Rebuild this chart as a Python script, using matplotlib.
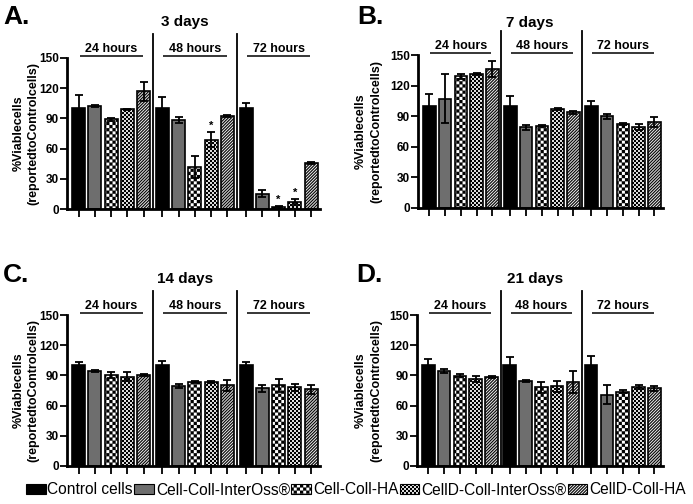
import numpy as np
import matplotlib
matplotlib.use('Agg')
import matplotlib.pyplot as plt
import matplotlib.hatch as mhatch
from matplotlib.path import Path
from matplotlib.patches import Patch

plt.rcParams['font.family'] = ['Liberation Sans', 'DejaVu Sans']
plt.rcParams['hatch.linewidth'] = 0.1

# ---------------- data ----------------
series = ['Control cells', 'Cell-Coll-InterOss®', 'Cell-Coll-HA',
          'CellD-Coll-InterOss®', 'CellD-Coll-HA']
groups = ['24 hours', '48 hours', '72 hours']
panel_letters = ['A.', 'B.', 'C.', 'D.']
panel_titles = ['3 days', '7 days', '14 days', '21 days']
yticks = [0, 30, 60, 90, 120, 150]
ylabel_lines = ['%Viablecells', '(reportedtoControlcells)']

means_3d = [[100, 102, 89, 99, 117],
            [100, 88, 42, 69, 92],
            [100, 15, 2, 6.5, 45.5]]
err_3d = [[13, 1, 1.5, 0.8, 9.5],
          [11, 3, 11, 7, 1],
          [5, 3.5, 0.5, 3, 0.8]]
stars_3d = [(1, 3), (2, 2), (2, 3)]

means_7d = [[100, 107, 129, 131, 136],
            [100, 79, 80.5, 97, 94],
            [100, 90, 82, 79, 84.5]]
err_7d = [[12, 24, 2.5, 1, 8],
          [10, 2.3, 1, 1, 1.5],
          [5, 2.5, 1, 3, 5]]
stars_7d = []

means_14d = [[100, 94.5, 90, 88.5, 90],
             [100, 79.5, 83, 83, 80],
             [100, 77, 80, 78, 76]]
err_14d = [[3, 1, 3, 4.5, 1],
           [4.5, 2, 1, 1, 5],
           [3, 3.5, 6, 3, 4]]
stars_14d = []

means_21d = [[100, 94.5, 89.5, 86.5, 88],
             [100, 84, 78, 79, 83.5],
             [100, 71, 74, 78, 77]]
err_21d = [[6.5, 2, 1.5, 2.7, 1],
           [8, 1, 5, 5, 11],
           [9, 9, 1.5, 2, 2]]
stars_21d = []

panel_means = [means_3d, means_7d, means_14d, means_21d]
panel_errs = [err_3d, err_7d, err_14d, err_21d]
panel_stars = [stars_3d, stars_7d, stars_14d, stars_21d]

# ---------------- custom hatch patterns ----------------
def _checker(n):
    verts, codes = [], []
    for i in range(n):
        for j in range(n):
            if (i + j) % 2 == 0:
                x0, y0, x1, y1 = i / n, j / n, (i + 1) / n, (j + 1) / n
                verts += [(x0, y0), (x1, y0), (x1, y1), (x0, y1), (x0, y0)]
                codes += [Path.MOVETO, Path.LINETO, Path.LINETO, Path.LINETO, Path.CLOSEPOLY]
    return Path(np.array(verts, float), np.array(codes, dtype=Path.code_type))


def _stripes(n, frac):
    w = frac / n
    verts, codes = [], []
    for k in range(-n - 1, n + 1):
        x0 = k / n
        verts += [(x0, 0), (x0 + w, 0), (x0 + w + 1, 1), (x0 + 1, 1), (x0, 0)]
        codes += [Path.MOVETO, Path.LINETO, Path.LINETO, Path.LINETO, Path.CLOSEPOLY]
    return Path(np.array(verts, float), np.array(codes, dtype=Path.code_type))


_custom_hatches = {'+++': _checker(32), 'xxx': _checker(50), '//////': _stripes(33, 0.5)}
_orig_get_path = mhatch.get_path


def _get_path(hatchpattern, density=6):
    if hatchpattern in _custom_hatches:
        return _custom_hatches[hatchpattern]
    return _orig_get_path(hatchpattern, density)


mhatch.get_path = _get_path

facecolors = ['black', '#6e6e6e', 'white', 'white', 'white']
hatches = [None, None, '+++', 'xxx', '//////']

# ---------------- figure ----------------
W, H = 693, 504
fig = plt.figure(figsize=(W / 100, H / 100), dpi=100)

# axes boxes in pixels: left, top, width, height
boxes = [(67, 58, 253, 151), (418, 55, 245, 153),
         (67, 315, 253, 151), (417, 315, 246, 151)]
title_pos = [(185, 22), (530, 23), (185, 279), (535, 279)]
letter_pos = [(3, 24), (357, 24), (3, 282), (356, 282)]
ylabel_off = [(-48, -34), (-57, -42), (-48, -34), (-56, -41)]

group_step = 5.15
bar_w = 0.8

for p in range(4):
    l, t, w, h = boxes[p]
    ax = fig.add_axes([l / W, 1 - (t + h) / H, w / W, h / H])
    means = panel_means[p]
    errs = panel_errs[p]
    xs_all = []
    for g in range(len(groups)):
        base = g * group_step
        for s in range(len(series)):
            x = base + s
            xs_all.append(x)
            ax.bar(x, means[g][s], width=bar_w, color=facecolors[s], edgecolor='black',
                   linewidth=1.2, hatch=hatches[s], zorder=2)
            ax.errorbar(x, means[g][s], yerr=errs[g][s], fmt='none', ecolor='black',
                        elinewidth=1.3, capsize=3, capthick=1.3, zorder=3)
        cx = base + 2
        ax.text(cx, 153, groups[g], ha='center', va='bottom', fontsize=9,
                fontweight='bold', clip_on=False)
        ax.plot([base + 0.05, base + 3.95], [151.5, 151.5], color='black', lw=1.1,
                clip_on=False, solid_capstyle='butt')
        if g > 0:
            dx = base - (group_step - 4) / 2
            ax.plot([dx, dx], [0, 174], color='black', lw=1.3, clip_on=False)
    for (g, s) in panel_stars[p]:
        x = g * group_step + s
        ax.text(x, means[g][s] + errs[g][s] + 2, '*', ha='center', va='bottom',
                fontsize=8, fontweight='bold')

    ax.set_xlim(-0.72, 2 * group_step + 4 + 0.55)
    ax.set_ylim(0, 150)
    ax.set_yticks(yticks)
    ax.set_yticklabels([str(v) for v in yticks], fontsize=8.5, fontweight='bold')
    ax.set_xticks(xs_all)
    ax.set_xticklabels([''] * len(xs_all))
    ax.tick_params(axis='x', direction='out', length=6, width=1.3)
    ax.tick_params(axis='y', direction='out', length=5, width=1.3, pad=1)
    for side in ['top', 'right']:
        ax.spines[side].set_visible(False)
    for side in ['left', 'bottom']:
        ax.spines[side].set_linewidth(2)
    for k, off in enumerate(ylabel_off[p]):
        ax.text(off / w, 0.5, ylabel_lines[k], transform=ax.transAxes, rotation=90,
                ha='center', va='center', fontsize=9, fontweight='bold')

    tx, ty = title_pos[p]
    fig.text(tx / W, 1 - ty / H, panel_titles[p], ha='center', va='center',
             fontsize=11, fontweight='bold')
    lx, ly = letter_pos[p]
    fig.text(lx / W, 1 - ly / H, panel_letters[p], ha='left', va='baseline',
             fontsize=19, fontweight='bold')

# legend
handles = [Patch(facecolor=facecolors[s], edgecolor='black', linewidth=0.8,
                 hatch=hatches[s]) for s in range(len(series))]
fig.legend(handles, series, loc='center', bbox_to_anchor=(356 / W, 1 - 490 / H),
           ncol=5, frameon=False, fontsize=11.2, handlelength=1.25, handleheight=0.55,
           handletextpad=0.12, columnspacing=0.1, borderpad=0, borderaxespad=0)

fig.savefig('out.png', dpi=100)
